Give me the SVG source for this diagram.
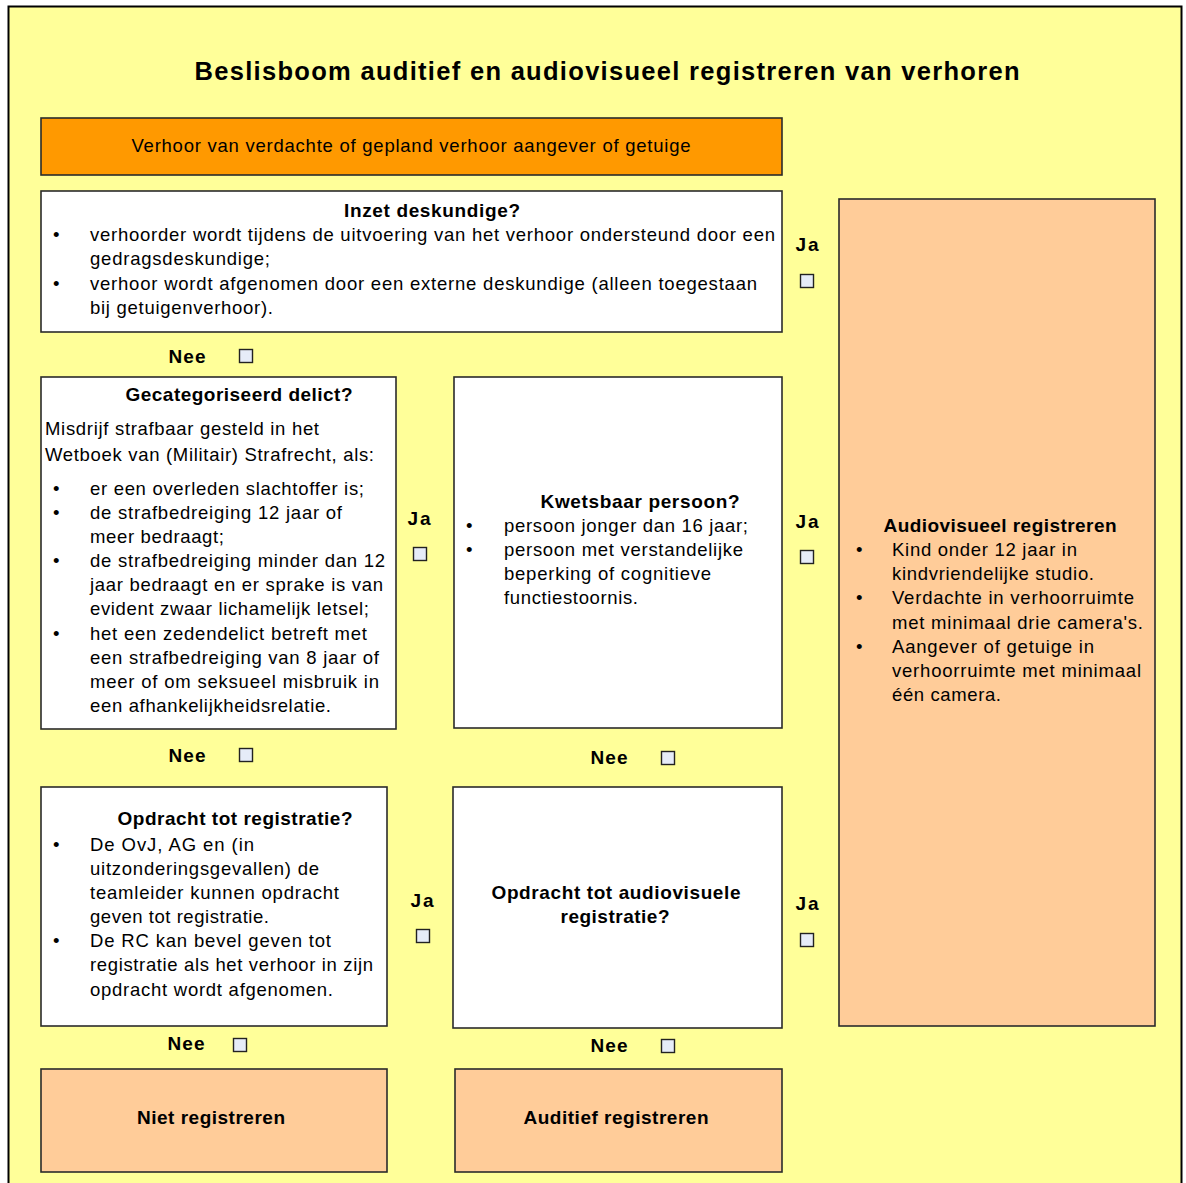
<svg xmlns="http://www.w3.org/2000/svg" width="1186" height="1183" viewBox="0 0 1186 1183">
<style>
text{font-family:"Liberation Sans",Arial,sans-serif;fill:#000}
.t{font-size:18.5px}
.b{font-size:19px;font-weight:bold}
.c{text-anchor:middle}
.box{stroke:#2b2b2b;stroke-width:1.6}
.w{fill:#fff}
.p{fill:#FFCC99}
.cb{fill:#E6ECF8;stroke:#222;stroke-width:1.4}
</style>
<rect x="8.5" y="6.5" width="1173" height="1200" fill="#FFFF99" stroke="#000" stroke-width="2"/>
<text x="607" y="80" class="c" style="font-size:25.5px;font-weight:bold" textLength="825" lengthAdjust="spacing">Beslisboom auditief en audiovisueel registreren van verhoren</text>

<g id="start">
<rect class="box" x="41" y="118" width="741" height="57" fill="#FF9900"/>
<text class="t c" x="411" y="152" textLength="559" lengthAdjust="spacing">Verhoor van verdachte of gepland verhoor aangever of getuige</text>
</g>

<g id="inzet">
<rect class="box w" x="41" y="191" width="741" height="141"/>
<text class="b c" x="432" y="217" textLength="176" lengthAdjust="spacing">Inzet deskundige?</text>
<text class="t" x="53" y="241">•</text>
<text class="t" x="90" y="241" textLength="685" lengthAdjust="spacing">verhoorder wordt tijdens de uitvoering van het verhoor ondersteund door een</text>
<text class="t" x="90" y="265" textLength="180" lengthAdjust="spacing">gedragsdeskundige;</text>
<text class="t" x="53" y="290">•</text>
<text class="t" x="90" y="290" textLength="667" lengthAdjust="spacing">verhoor wordt afgenomen door een externe deskundige (alleen toegestaan</text>
<text class="t" x="90" y="314" textLength="183" lengthAdjust="spacing">bij getuigenverhoor).</text>
</g>

<g id="gecategoriseerd">
<rect class="box w" x="41" y="377" width="355" height="352"/>
<text class="b c" x="239" y="401" textLength="227" lengthAdjust="spacing">Gecategoriseerd delict?</text>
<text class="t" x="45" y="435" textLength="274" lengthAdjust="spacing">Misdrijf strafbaar gesteld in het</text>
<text class="t" x="45" y="461" textLength="329" lengthAdjust="spacing">Wetboek van (Militair) Strafrecht, als:</text>
<text class="t" x="53" y="495">•</text>
<text class="t" x="90" y="495" textLength="274" lengthAdjust="spacing">er een overleden slachtoffer is;</text>
<text class="t" x="53" y="519">•</text>
<text class="t" x="90" y="519" textLength="252" lengthAdjust="spacing">de strafbedreiging 12 jaar of</text>
<text class="t" x="90" y="543" textLength="134" lengthAdjust="spacing">meer bedraagt;</text>
<text class="t" x="53" y="567">•</text>
<text class="t" x="90" y="567" textLength="295" lengthAdjust="spacing">de strafbedreiging minder dan 12</text>
<text class="t" x="90" y="591" textLength="293" lengthAdjust="spacing">jaar bedraagt en er sprake is van</text>
<text class="t" x="90" y="615" textLength="279" lengthAdjust="spacing">evident zwaar lichamelijk letsel;</text>
<text class="t" x="53" y="640">•</text>
<text class="t" x="90" y="640" textLength="277" lengthAdjust="spacing">het een zedendelict betreft met</text>
<text class="t" x="90" y="664" textLength="289" lengthAdjust="spacing">een strafbedreiging van 8 jaar of</text>
<text class="t" x="90" y="688" textLength="289" lengthAdjust="spacing">meer of om seksueel misbruik in</text>
<text class="t" x="90" y="712" textLength="241" lengthAdjust="spacing">een afhankelijkheidsrelatie.</text>
</g>

<g id="kwetsbaar">
<rect class="box w" x="454" y="377" width="328" height="351"/>
<text class="b c" x="640" y="508" textLength="199" lengthAdjust="spacing">Kwetsbaar persoon?</text>
<text class="t" x="466" y="532">•</text>
<text class="t" x="504" y="532" textLength="244" lengthAdjust="spacing">persoon jonger dan 16 jaar;</text>
<text class="t" x="466" y="556">•</text>
<text class="t" x="504" y="556" textLength="239" lengthAdjust="spacing">persoon met verstandelijke</text>
<text class="t" x="504" y="580" textLength="207" lengthAdjust="spacing">beperking of cognitieve</text>
<text class="t" x="504" y="604" textLength="134" lengthAdjust="spacing">functiestoornis.</text>
</g>

<g id="audiovisueel">
<rect class="box p" x="839" y="199" width="316" height="827"/>
<text class="b c" x="1000" y="532" textLength="233" lengthAdjust="spacing">Audiovisueel registreren</text>
<text class="t" x="856" y="556">•</text>
<text class="t" x="892" y="556" textLength="185" lengthAdjust="spacing">Kind onder 12 jaar in</text>
<text class="t" x="892" y="580" textLength="202" lengthAdjust="spacing">kindvriendelijke studio.</text>
<text class="t" x="856" y="604">•</text>
<text class="t" x="892" y="604" textLength="242" lengthAdjust="spacing">Verdachte in verhoorruimte</text>
<text class="t" x="892" y="629" textLength="251" lengthAdjust="spacing">met minimaal drie camera's.</text>
<text class="t" x="856" y="653">•</text>
<text class="t" x="892" y="653" textLength="202" lengthAdjust="spacing">Aangever of getuige in</text>
<text class="t" x="892" y="677" textLength="249" lengthAdjust="spacing">verhoorruimte met minimaal</text>
<text class="t" x="892" y="701" textLength="109" lengthAdjust="spacing">één camera.</text>
</g>

<g id="opdracht">
<rect class="box w" x="41" y="787" width="346" height="239"/>
<text class="b c" x="235" y="825" textLength="235" lengthAdjust="spacing">Opdracht tot registratie?</text>
<text class="t" x="53" y="851">•</text>
<text class="t" x="90" y="851" textLength="164" lengthAdjust="spacing">De OvJ, AG en (in</text>
<text class="t" x="90" y="875" textLength="229" lengthAdjust="spacing">uitzonderingsgevallen) de</text>
<text class="t" x="90" y="899" textLength="249" lengthAdjust="spacing">teamleider kunnen opdracht</text>
<text class="t" x="90" y="923" textLength="179" lengthAdjust="spacing">geven tot registratie.</text>
<text class="t" x="53" y="947">•</text>
<text class="t" x="90" y="947" textLength="241" lengthAdjust="spacing">De RC kan bevel geven tot</text>
<text class="t" x="90" y="971" textLength="283" lengthAdjust="spacing">registratie als het verhoor in zijn</text>
<text class="t" x="90" y="996" textLength="243" lengthAdjust="spacing">opdracht wordt afgenomen.</text>
</g>

<g id="opdracht-av">
<rect class="box w" x="453" y="787" width="329" height="241"/>
<text class="b c" x="616" y="899" textLength="249" lengthAdjust="spacing">Opdracht tot audiovisuele</text>
<text class="b c" x="615" y="923" textLength="109" lengthAdjust="spacing">registratie?</text>
</g>

<g id="niet">
<rect class="box p" x="41" y="1069" width="346" height="103"/>
<text class="b c" x="211" y="1124" textLength="148" lengthAdjust="spacing">Niet registreren</text>
</g>

<g id="auditief">
<rect class="box p" x="455" y="1069" width="327" height="103"/>
<text class="b c" x="616" y="1124" textLength="185" lengthAdjust="spacing">Auditief registreren</text>
</g>

<g id="connectors">
<text class="b c" x="807" y="251" textLength="23" lengthAdjust="spacing">Ja</text>
<rect class="cb" x="800.5" y="274.5" width="13" height="13"/>
<text class="b c" x="187" y="363" textLength="37" lengthAdjust="spacing">Nee</text>
<rect class="cb" x="239.5" y="349.5" width="13" height="13"/>
<text class="b c" x="419" y="525" textLength="23" lengthAdjust="spacing">Ja</text>
<rect class="cb" x="413.5" y="547.5" width="13" height="13"/>
<text class="b c" x="807" y="528" textLength="23" lengthAdjust="spacing">Ja</text>
<rect class="cb" x="800.5" y="550.5" width="13" height="13"/>
<text class="b c" x="187" y="762" textLength="37" lengthAdjust="spacing">Nee</text>
<rect class="cb" x="239.5" y="748.5" width="13" height="13"/>
<text class="b c" x="609" y="764" textLength="37" lengthAdjust="spacing">Nee</text>
<rect class="cb" x="661.5" y="751.5" width="13" height="13"/>
<text class="b c" x="422" y="907" textLength="23" lengthAdjust="spacing">Ja</text>
<rect class="cb" x="416.5" y="929.5" width="13" height="13"/>
<text class="b c" x="807" y="910" textLength="23" lengthAdjust="spacing">Ja</text>
<rect class="cb" x="800.5" y="933.5" width="13" height="13"/>
<text class="b c" x="186" y="1050" textLength="37" lengthAdjust="spacing">Nee</text>
<rect class="cb" x="233.5" y="1038.5" width="13" height="13"/>
<text class="b c" x="609" y="1052" textLength="37" lengthAdjust="spacing">Nee</text>
<rect class="cb" x="661.5" y="1039.5" width="13" height="13"/>
</g>
</svg>
